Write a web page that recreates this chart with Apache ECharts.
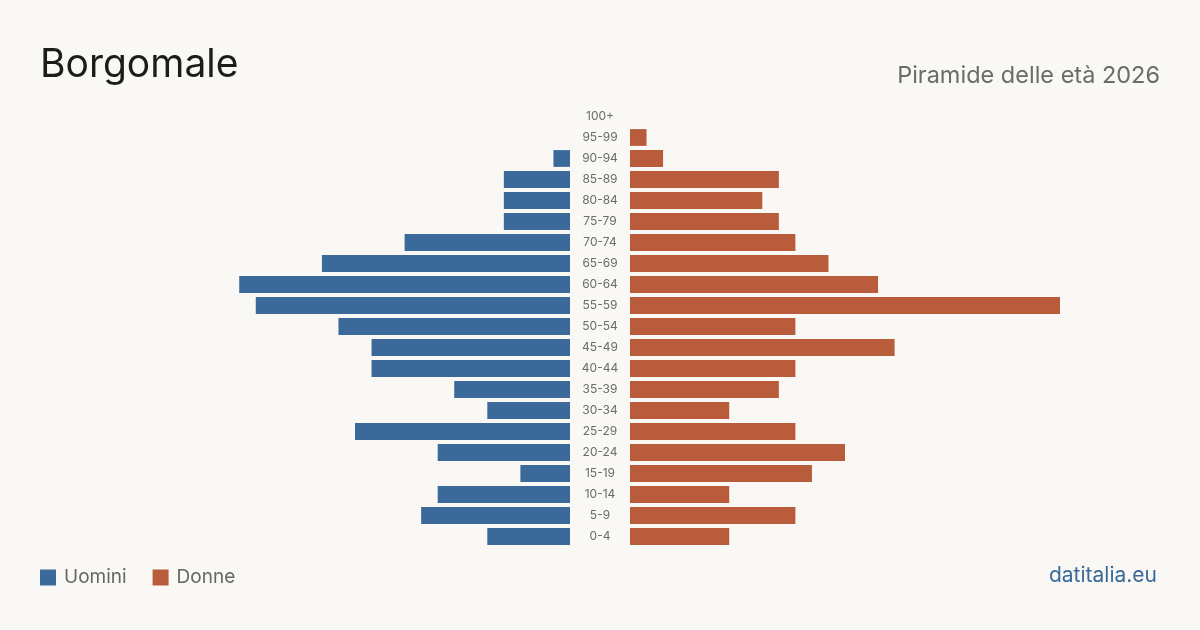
<!DOCTYPE html>
<html>
<head>
<meta charset="utf-8">
<script src="https://cdn.jsdelivr.net/npm/echarts@6/dist/echarts.min.js"></script>
<style>
html,body{margin:0;padding:0;background:#f9f8f4;}
#chart{width:1200px;height:630px;}
</style>
</head>
<body>
<div id="chart"></div>
<script>
const ageGroups = ['0-4','5-9','10-14','15-19','20-24','25-29','30-34','35-39','40-44','45-49','50-54','55-59','60-64','65-69','70-74','75-79','80-84','85-89','90-94','95-99','100+'];
const men   = [5, 9, 8, 3, 8, 13, 5, 7, 12, 12, 14, 19, 20, 15, 10, 4, 4, 4, 1, 0, 0];
const women = [6, 10, 6, 11, 13, 10, 6, 9, 10, 16, 10, 26, 15, 12, 10, 9, 8, 9, 2, 1, 0];
const seriesNames = ['Uomini', 'Donne'];
const titleText = 'Borgomale';
const subtitleText = 'Piramide delle età 2026';
const sourceText = 'datitalia.eu';

const blue = '#3b6a9a';
const orange = '#b95c3b';
const maxVal = Math.max(...men, ...women);
const font = 'Inter, "Open Sans", sans-serif';

const chart = echarts.init(document.getElementById('chart'));
chart.setOption({
  backgroundColor: '#f9f8f4',
  animation: false,
  textStyle: { fontFamily: font },
  grid: [
    { left: 140, width: 430, top: 106, height: 441 },
    { left: 630, width: 430, top: 106, height: 441 }
  ],
  xAxis: [
    { gridIndex: 0, type: 'value', min: 0, max: maxVal, inverse: true, show: false },
    { gridIndex: 1, type: 'value', min: 0, max: maxVal, show: false }
  ],
  yAxis: [
    { gridIndex: 0, type: 'category', data: ageGroups, show: false },
    { gridIndex: 1, type: 'category', data: ageGroups,
      axisLine: { show: false }, axisTick: { show: false }, splitLine: { show: false },
      axisLabel: { margin: 30, align: 'center', color: '#6b6b6b', fontSize: 12, fontFamily: font } }
  ],
  legend: {
    left: 35, top: 563, itemWidth: 16, itemHeight: 16, itemGap: 26, icon: 'rect',
    textStyle: { color: '#666', fontSize: 19, fontFamily: font, padding: [0, 0, 0, 3] },
    data: seriesNames
  },
  series: [
    { name: seriesNames[0], type: 'bar', xAxisIndex: 0, yAxisIndex: 0, data: men,
      barCategoryGap: '20%', itemStyle: { color: blue } },
    { name: seriesNames[1], type: 'bar', xAxisIndex: 1, yAxisIndex: 1, data: women,
      barCategoryGap: '20%', itemStyle: { color: orange } }
  ],
  graphic: [
    { type: 'text', left: 40, top: 46, style: { text: titleText, fontSize: 39, fill: '#1c1c1c', fontFamily: font } },
    { type: 'text', right: 40, top: 64, style: { text: subtitleText, fontSize: 23.5, fill: '#6b6b6b', fontFamily: font } },
    { type: 'text', right: 43, top: 565, style: { text: sourceText, fontSize: 21, fill: '#3b6a9a', fontFamily: font } }
  ]
});
</script>
</body>
</html>
